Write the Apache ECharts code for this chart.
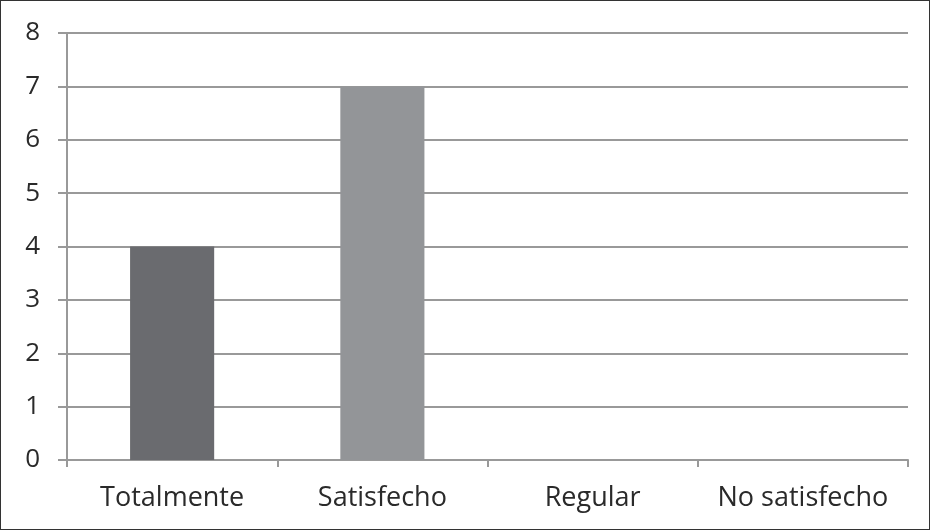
<!DOCTYPE html>
<html><head><meta charset="utf-8">
<script src="https://cdn.jsdelivr.net/npm/echarts@6/dist/echarts.min.js"></script>
<style>html,body{margin:0;padding:0;background:#fff}#c{width:930px;height:530px;box-sizing:border-box;border:1.5px solid #333}</style>
</head><body><div id="c"></div>
<script>
const categories = ['Totalmente', 'Satisfecho', 'Regular', 'No satisfecho'];
const values = [4, 7, 0, 0];
const barColors = ['#6a6b6f', '#939598', '#6a6b6f', '#939598'];
const chart = echarts.init(document.getElementById('c'));
chart.setOption({
  animation: false,
  grid: {left: 66, right: 21, top: 32, bottom: 69},
  xAxis: {
    type: 'category', data: categories,
    axisLine: {lineStyle: {color: '#999', width: 2}},
    axisTick: {show: true, interval: 0, length: 7, lineStyle: {color: '#999', width: 2}},
    axisLabel: {interval: 0, hideOverlap: false, color: '#2a2a2a', fontSize: 27, fontFamily: 'Open Sans', margin: 25}
  },
  yAxis: {
    type: 'value', min: 0, max: 8, interval: 1,
    axisLine: {show: true, lineStyle: {color: '#999', width: 2}},
    axisTick: {show: true, length: 9, lineStyle: {color: '#999', width: 2}},
    splitLine: {lineStyle: {color: '#999', width: 2}},
    axisLabel: {color: '#2a2a2a', fontSize: 26, fontFamily: 'Open Sans', margin: 27}
  },
  series: [{
    type: 'bar', data: values.map((v, i) => ({value: v, itemStyle: {color: barColors[i]}})),
    barWidth: '40%'
  }]
});
</script></body></html>
